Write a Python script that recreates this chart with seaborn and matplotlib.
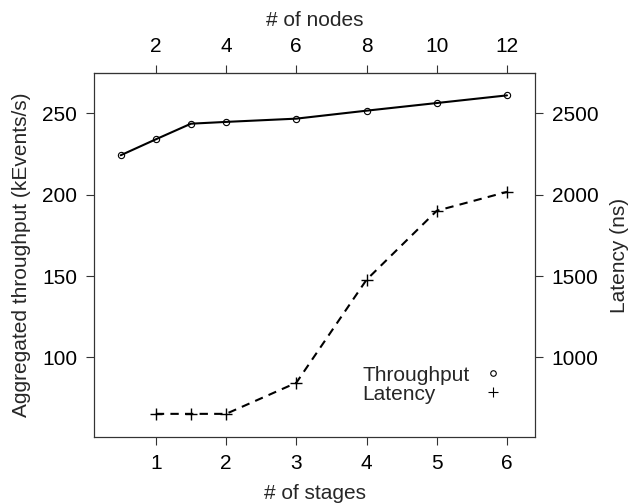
import matplotlib
matplotlib.use("Agg")
import matplotlib.pyplot as plt
from matplotlib.lines import Line2D
import seaborn as sns
import pandas as pd

# Data
tp_stages = [0.5, 1, 1.5, 2, 3, 4, 5, 6]
throughput = [224.2, 234.0, 243.6, 244.7, 246.7, 251.6, 256.3, 261.0]
lat_stages = [1, 1.5, 2, 3, 4, 5, 6]
latency = [653, 653, 653, 844, 1477, 1901, 2017]
stage_ticks = [1, 2, 3, 4, 5, 6]
node_ticks = [2, 4, 6, 8, 10, 12]
tp_ticks = [100, 150, 200, 250]
lat_ticks = [1000, 1500, 2000, 2500]
series_names = ["Throughput", "Latency"]

sns.set_theme(style="ticks")
plt.rcParams["font.family"] = ["Liberation Sans", "DejaVu Sans"]
FS = 15

tp_df = pd.DataFrame({"stages": tp_stages, "throughput": throughput})
lat_df = pd.DataFrame({"stages": lat_stages, "latency": latency})

fig = plt.figure(figsize=(6.31, 5.04), dpi=100)
ax = fig.add_axes([0.149, 0.133, 0.699, 0.722])

sns.lineplot(data=tp_df, x="stages", y="throughput", ax=ax, color="black",
             linewidth=1.5, marker="o", markersize=4.5, markerfacecolor="none",
             markeredgecolor="black", markeredgewidth=0.8)
ax.set_xlim(0.12, 6.4)
ax.set_ylim(51.1, 274.7)
ax.set_xticks(stage_ticks)
ax.set_yticks(tp_ticks)
ax.set_xlabel("# of stages", fontsize=FS, labelpad=8)
ax.set_ylabel("Aggregated throughput (kEvents/s)", fontsize=FS, labelpad=8)

ax2 = ax.twinx()
sns.lineplot(data=lat_df, x="stages", y="latency", ax=ax2, color="black",
             linewidth=1.5, linestyle=(0, (4, 3)), marker="+", markersize=8,
             markeredgewidth=1.0, markeredgecolor="black")
ax2.set_ylim(511, 2747)
ax2.set_yticks(lat_ticks)
ax2.set_ylabel("Latency (ns)", fontsize=FS, labelpad=8)
ax2.set_xlim(0.12, 6.4)

top = ax.secondary_xaxis("top", functions=(lambda x: 2 * x, lambda x: x / 2))
top.set_xticks(node_ticks)
top.set_xlabel("# of nodes", fontsize=FS, labelpad=8)

for a in (ax, ax2):
    for s in a.spines.values():
        s.set_color("#333333")
        s.set_linewidth(0.8)
    a.tick_params(direction="out", length=6, width=0.8, color="#333333",
                  labelcolor="black", labelsize=FS, pad=6)
top.tick_params(direction="out", length=6, width=0.8, color="#333333",
                labelcolor="black", labelsize=FS, pad=6)
top.spines["top"].set_linewidth(0.8)
top.spines["top"].set_color("#333333")

# legend: left-aligned labels, markers in a column to their right
blank = [Line2D([], [], linestyle="none") for _ in series_names]
leg_text = ax2.legend(blank, series_names, loc="center left",
                      bbox_to_anchor=(0.608, 0.144), frameon=False,
                      fontsize=FS, handlelength=0, handletextpad=0,
                      labelspacing=0.0, borderpad=0, borderaxespad=0)
ax2.add_artist(leg_text)
keys = [
    Line2D([], [], linestyle="none", marker="o", markersize=4,
           markerfacecolor="none", markeredgecolor="black", markeredgewidth=0.8),
    Line2D([], [], linestyle="none", marker="+", markersize=7,
           markeredgecolor="black", markeredgewidth=0.8),
]
ax2.legend(keys, ["" for _ in series_names], loc="center",
           bbox_to_anchor=(0.905, 0.144), frameon=False, fontsize=FS,
           handlelength=1.0, handletextpad=0, labelspacing=0.0,
           borderpad=0, borderaxespad=0)

fig.savefig("out.png", dpi=100)
